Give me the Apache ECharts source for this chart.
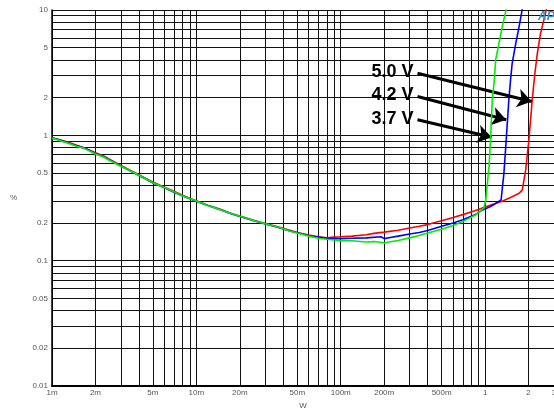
<!DOCTYPE html>
<html><head><meta charset="utf-8">
<script src="https://cdn.jsdelivr.net/npm/echarts@6/dist/echarts.min.js"></script>
<style>html,body{margin:0;padding:0;background:#fff}#c{width:554px;height:411px}</style>
</head><body><div id="c"></div>
<script>
// Grid line positions (all 1..9 multiples of each decade)
const xGridValues = [0.001,0.002,0.003,0.004,0.005,0.006,0.007,0.008,0.009,
  0.01,0.02,0.03,0.04,0.05,0.06,0.07,0.08,0.09,
  0.1,0.2,0.3,0.4,0.5,0.6,0.7,0.8,0.9,1,2,3];
const yGridValues = [0.01,0.02,0.03,0.04,0.05,0.06,0.07,0.08,0.09,
  0.1,0.2,0.3,0.4,0.5,0.6,0.7,0.8,0.9,1,2,3,4,5,6,7,8,9,10];
// Tick labels
const xLabelValues = [0.001,0.002,0.005,0.01,0.02,0.05,0.1,0.2,0.5,1,2,3];
const xLabelTexts  = ['1m','2m','5m','10m','20m','50m','100m','200m','500m','1','2','3'];
const yLabelValues = [0.01,0.02,0.05,0.1,0.2,0.5,1,2,5,10];
const yLabelTexts  = ['0.01','0.02','0.05','0.1','0.2','0.5','1','2','5','10'];

// Series: [W, %]
const red50 = [[0.001,0.95],[0.0011,0.93],[0.0012,0.905],[0.0013,0.88],[0.0015,0.83],[0.0017,0.79],[0.002,0.725],[0.0023,0.68],[0.0025,0.645],[0.003,0.575],[0.0035,0.525],[0.004,0.485],[0.0045,0.45],[0.005,0.425],[0.006,0.385],[0.007,0.358],[0.008,0.333],[0.009,0.315],[0.01,0.30],[0.012,0.277],[0.015,0.255],[0.017,0.24],[0.02,0.227],[0.025,0.21],[0.03,0.198],[0.035,0.189],[0.04,0.181],[0.045,0.174],[0.05,0.168],[0.06,0.16],[0.07,0.155],[0.08,0.152],[0.09,0.154],[0.1,0.155],[0.12,0.157],[0.15,0.161],[0.17,0.165],[0.2,0.169],[0.25,0.175],[0.3,0.182],[0.35,0.188],[0.4,0.194],[0.5,0.208],[0.6,0.221],[0.7,0.233],[0.85,0.25],[1.0,0.268],[1.15,0.283],[1.3,0.296],[1.54,0.324],[1.72,0.345],[1.81,0.367],[1.91,0.53],[2.01,0.92],[2.12,1.92],[2.21,3.1],[2.30,4.5],[2.42,6.5],[2.55,8.3],[2.66,10.2]];
const blue42 = [[0.001,0.96],[0.0011,0.925],[0.0012,0.895],[0.0013,0.87],[0.0015,0.82],[0.0017,0.785],[0.002,0.715],[0.0023,0.672],[0.0025,0.635],[0.003,0.57],[0.0035,0.52],[0.004,0.478],[0.0045,0.446],[0.005,0.417],[0.006,0.381],[0.007,0.352],[0.008,0.329],[0.009,0.312],[0.01,0.298],[0.012,0.275],[0.015,0.252],[0.017,0.239],[0.02,0.225],[0.025,0.208],[0.03,0.196],[0.035,0.187],[0.04,0.179],[0.045,0.172],[0.05,0.167],[0.06,0.159],[0.07,0.154],[0.08,0.151],[0.09,0.150],[0.1,0.150],[0.12,0.151],[0.15,0.152],[0.19,0.155],[0.2,0.150],[0.22,0.153],[0.25,0.157],[0.3,0.163],[0.35,0.168],[0.4,0.174],[0.5,0.188],[0.6,0.2],[0.7,0.212],[0.85,0.232],[0.96,0.254],[1.1,0.272],[1.29,0.305],[1.35,0.50],[1.40,0.92],[1.46,1.92],[1.50,2.77],[1.54,3.76],[1.63,5.4],[1.72,7.4],[1.81,10.2]];
const green37 = [[0.001,0.95],[0.0011,0.92],[0.0012,0.89],[0.0013,0.865],[0.0015,0.815],[0.0017,0.78],[0.002,0.71],[0.0023,0.668],[0.0025,0.632],[0.003,0.567],[0.0035,0.522],[0.004,0.48],[0.0045,0.448],[0.005,0.419],[0.006,0.383],[0.007,0.354],[0.008,0.33],[0.009,0.313],[0.01,0.299],[0.012,0.276],[0.015,0.253],[0.017,0.24],[0.02,0.226],[0.025,0.209],[0.03,0.197],[0.035,0.188],[0.04,0.18],[0.045,0.172],[0.05,0.166],[0.06,0.157],[0.07,0.151],[0.08,0.148],[0.09,0.146],[0.1,0.144],[0.12,0.144],[0.13,0.143],[0.15,0.141],[0.17,0.142],[0.2,0.139],[0.25,0.145],[0.3,0.152],[0.35,0.159],[0.4,0.166],[0.5,0.178],[0.6,0.191],[0.7,0.205],[0.85,0.23],[0.98,0.262],[1.01,0.305],[1.064,0.563],[1.093,0.976],[1.121,1.92],[1.158,2.77],[1.183,4.0],[1.234,5.1],[1.315,7.37],[1.40,10.15]];

// Annotation labels and arrows (data coordinates)
const annotTexts = ['5.0 V','4.2 V','3.7 V'];
const arrowStart = [[0.34,3.13],[0.34,2.04],[0.34,1.33]];
const arrowEnd   = [[2.10,1.86],[1.40,1.33],[1.11,0.966]];

function pick(values, texts, v){
  const i = values.findIndex(t => Math.abs(t - v) / t < 1e-6);
  return i >= 0 ? texts[i] : '';
}

const chart = echarts.init(document.getElementById('c'), null, {renderer:'canvas'});
const labelStyle = {color:'#555', fontSize:8, fontFamily:'Liberation Sans, Arial, sans-serif'};
chart.setOption({
  animation:false,
  backgroundColor:'#fff',
  grid:{left:52, right:0, top:10, bottom:25, containLabel:false, outerBoundsMode:'none'},
  xAxis:{
    type:'log', min:0.001, max:3,
    name:'W', nameLocation:'middle', nameGap:16, nameTextStyle:labelStyle,
    axisLine:{show:true, lineStyle:{color:'#000', width:2}},
    axisTick:{show:false, customValues:xGridValues},
    splitLine:{show:true, lineStyle:{color:'#111', width:1}},
    axisLabel:Object.assign({customValues:xLabelValues, margin:3, hideOverlap:false,
      formatter:v => pick(xLabelValues, xLabelTexts, v)}, labelStyle)
  },
  yAxis:{
    type:'log', min:0.01, max:10,
    name:'%', nameLocation:'middle', nameGap:35, nameRotate:0, nameTextStyle:labelStyle,
    axisLine:{show:true, lineStyle:{color:'#000', width:1.5}},
    axisTick:{show:false, customValues:yGridValues},
    splitLine:{show:true, lineStyle:{color:'#111', width:1}},
    axisLabel:Object.assign({customValues:yLabelValues, margin:4, hideOverlap:false,
      formatter:v => pick(yLabelValues, yLabelTexts, v)}, labelStyle)
  },
  series:[
    {type:'line', name:'5.0 V', data:red50, showSymbol:false, symbol:'none', z:3,
     lineStyle:{color:'#ff0000', width:1.6}, clip:true},
    {type:'line', name:'4.2 V', data:blue42, showSymbol:false, symbol:'none', z:4,
     lineStyle:{color:'#0000ff', width:1.6}, clip:true},
    {type:'line', name:'3.7 V', data:green37, showSymbol:false, symbol:'none', z:5,
     lineStyle:{color:'#00ee00', width:1.6}, clip:true},
    {type:'line', name:'arrows', data:[], z:6, silent:true,
     markLine:{silent:true, symbol:['none','arrow'], symbolSize:14,
       lineStyle:{color:'#000', width:3, type:'solid'},
       label:{show:true, position:'start', formatter:p => annotTexts[p.dataIndex],
              color:'#000', fontSize:18, fontWeight:'bold', fontFamily:'Liberation Sans, Arial, sans-serif',
              align:'right', distance:4},
       data: arrowStart.map((s,i) => [{coord:s}, {coord:arrowEnd[i]}])
     }}
  ],
  graphic:[
    {type:'text', left:538, top:11, z:10,
     style:{text:'AP', fill:'#3b8fd0', font:'italic bold 12px Liberation Sans, Arial, sans-serif'}}
  ]
});
</script></body></html>
